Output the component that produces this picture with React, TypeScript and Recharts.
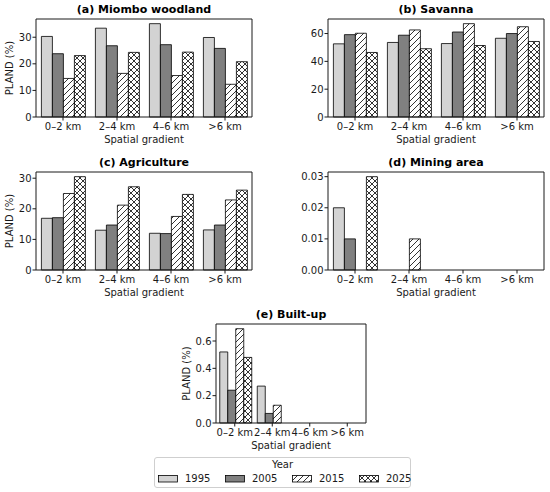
import React from 'react';
import { BarChart, Bar, XAxis, YAxis, Label, Legend, CartesianGrid } from 'recharts';

const categories = ['0–2 km', '2–4 km', '4–6 km', '>6 km'];
const years = ['1995', '2005', '2015', '2025'];

// (a) Miombo woodland
const miombo1995 = [30.3, 33.4, 35.1, 29.9];
const miombo2005 = [23.8, 26.8, 27.2, 25.8];
const miombo2015 = [14.5, 16.4, 15.6, 12.3];
const miombo2025 = [23.1, 24.3, 24.4, 20.8];
const miomboTicks = [0, 10, 20, 30];

// (b) Savanna
const savanna1995 = [52.6, 53.6, 52.8, 56.6];
const savanna2005 = [59.2, 58.8, 61.1, 60.0];
const savanna2015 = [60.2, 62.6, 67.1, 64.9];
const savanna2025 = [46.4, 49.1, 51.4, 54.3];
const savannaTicks = [0, 20, 40, 60];

// (c) Agriculture
const agri1995 = [16.9, 13.0, 12.0, 13.1];
const agri2005 = [17.1, 14.7, 11.9, 14.7];
const agri2015 = [25.0, 21.2, 17.5, 22.9];
const agri2025 = [30.5, 27.2, 24.7, 26.1];
const agriTicks = [0, 10, 20, 30];

// (d) Mining area
const mining1995 = [0.02, 0, 0, 0];
const mining2005 = [0.01, 0, 0, 0];
const mining2015 = [0, 0.01, 0, 0];
const mining2025 = [0.03, 0, 0, 0];
const miningTicks = [0, 0.01, 0.02, 0.03];

// (e) Built-up
const built1995 = [0.52, 0.27, 0, 0];
const built2005 = [0.24, 0.07, 0, 0];
const built2015 = [0.69, 0.13, 0, 0];
const built2025 = [0.48, 0, 0, 0];
const builtTicks = [0, 0.2, 0.4, 0.6];

const FONT = '"DejaVu Sans", sans-serif';
const INK = '#1a1a1a';
const FILLS = ['#d3d3d3', '#808080', 'url(#hatchDiag)', 'url(#hatchCross)'];

const ML = 40;
const MT = 24;
const MR = 6;
const XH = 34;

function buildRows(series: number[][]) {
  return categories.map((cat, i) => {
    const row: Record<string, any> = { cat };
    years.forEach((y, j) => {
      row['y' + y] = series[j][i];
    });
    return row;
  });
}

type PanelProps = {
  plotLeft: number;
  plotTop: number;
  plotW: number;
  plotH: number;
  series: number[][];
  ticks: number[];
  digits: number;
  title: string;
  yLabelDx?: number;
  legend?: { left: number; top: number };
};

function LegendBox(props: any) {
  const payload = props.payload || [];
  return (
    <div
      style={{
        width: 257,
        height: 31,
        boxSizing: 'border-box',
        border: '1px solid #cfcfcf',
        borderRadius: 3,
        background: '#fff',
        position: 'relative',
        fontFamily: FONT,
        fontSize: 10,
        color: INK,
      }}
    >
      <div style={{ position: 'absolute', left: 0, right: 0, top: 1, textAlign: 'center', lineHeight: '12px' }}>
        Year
      </div>
      {payload.map((p: any, i: number) => (
        <div key={i} style={{ position: 'absolute', left: 3 + i * 67, top: 15, height: 12, display: 'flex', alignItems: 'center' }}>
          <svg width={20} height={8} style={{ display: 'block' }}>
            <rect x={0.5} y={0.5} width={19} height={6.5} fill={p.payload?.fill || p.color} stroke="#000" strokeWidth={0.8} />
          </svg>
          <span style={{ marginLeft: 7, lineHeight: '12px' }}>{p.value}</span>
        </div>
      ))}
    </div>
  );
}

function Panel(p: PanelProps) {
  const rows = buildRows(p.series);
  const maxVal = Math.max(...p.series.flat());
  const domainMax = maxVal * 1.05;
  const width = ML + p.plotW + MR;
  const height = MT + p.plotH + XH;
  const tickStyle = { fontFamily: FONT, fontSize: 10, fill: INK };
  const axisLine = { stroke: INK, strokeWidth: 1 };
  return (
    <div style={{ position: 'absolute', left: p.plotLeft - ML, top: p.plotTop - MT }}>
      <BarChart
        width={width}
        height={height}
        data={rows}
        margin={{ top: MT, right: MR, bottom: 0, left: 0 }}
        barCategoryGap="10%"
        barGap={0}
      >
        <CartesianGrid
          horizontalPoints={[MT]}
          verticalPoints={[ML + p.plotW]}
          stroke={INK}
          strokeWidth={1}
          fill="none"
        />
        <XAxis
          dataKey="cat"
          interval={0}
          tick={tickStyle}
          tickSize={3.5}
          tickMargin={2.5}
          height={XH}
          axisLine={axisLine}
          tickLine={{ stroke: INK }}
        >
          <Label
            content={(lp: any) => {
              const vb = lp.viewBox || {};
              return (
                <g>
                  <text x={vb.x + vb.width / 2} y={vb.y + 26} textAnchor="middle" fontFamily={FONT} fontSize={10} fill={INK}>
                    Spatial gradient
                  </text>
                  <text
                    x={vb.x + vb.width / 2}
                    y={vb.y - p.plotH - 6}
                    textAnchor="middle"
                    fontFamily={FONT}
                    fontSize={11}
                    fontWeight="bold"
                    fill="#000"
                  >
                    {p.title}
                  </text>
                </g>
              );
            }}
          />
        </XAxis>
        <YAxis
          width={ML}
          domain={[0, domainMax]}
          ticks={p.ticks}
          interval={0}
          tickFormatter={(v: number) => v.toFixed(p.digits)}
          tick={tickStyle}
          tickSize={3.5}
          tickMargin={1}
          axisLine={axisLine}
          tickLine={{ stroke: INK }}
        >
          {p.yLabelDx !== undefined ? (
            <Label
              content={(lp: any) => {
                const vb = lp.viewBox || {};
                const cx = vb.x + vb.width + (p.yLabelDx as number);
                const cy = vb.y + vb.height / 2;
                return (
                  <text
                    x={cx}
                    y={cy}
                    textAnchor="middle"
                    dominantBaseline="central"
                    transform={`rotate(-90 ${cx} ${cy})`}
                    fontFamily={FONT}
                    fontSize={10}
                    fill={INK}
                  >
                    PLAND (%)
                  </text>
                );
              }}
            />
          ) : null}
        </YAxis>
        {years.map((y, j) => (
          <Bar
            key={y}
            dataKey={'y' + y}
            name={y}
            fill={FILLS[j]}
            stroke="#000"
            strokeWidth={0.8}
            isAnimationActive={false}
          />
        ))}
        {p.legend ? (
          <Legend
            layout="horizontal"
            verticalAlign="middle"
            align="center"
            content={<LegendBox />}
            wrapperStyle={{ left: p.legend.left, top: p.legend.top, width: 257, height: 31, bottom: 'auto', right: 'auto' }}
          />
        ) : null}
      </BarChart>
    </div>
  );
}

export default function App() {
  return (
    <div style={{ position: 'absolute', left: 0, top: 0, width: 550, height: 492, background: '#fff', overflow: 'hidden' }}>
      <svg width={0} height={0} style={{ position: 'absolute' }}>
        <defs>
          <pattern id="hatchDiag" patternUnits="userSpaceOnUse" width={6} height={6}>
            <rect width={6} height={6} fill="#fff" />
            <path d="M0,6 L6,0 M-1,1 L1,-1 M5,7 L7,5" stroke="#000" strokeWidth={0.8} />
          </pattern>
          <pattern id="hatchCross" patternUnits="userSpaceOnUse" width={6} height={6}>
            <rect width={6} height={6} fill="#fff" />
            <path d="M0,6 L6,0 M-1,1 L1,-1 M5,7 L7,5 M0,0 L6,6 M-1,5 L1,7 M5,-1 L7,1" stroke="#000" strokeWidth={0.8} />
          </pattern>
        </defs>
      </svg>
      <Panel plotLeft={36} plotTop={19} plotW={216} plotH={98} series={[miombo1995, miombo2005, miombo2015, miombo2025]} ticks={miomboTicks} digits={0} title="(a) Miombo woodland" yLabelDx={-26.5} />
      <Panel plotLeft={328} plotTop={19} plotW={216} plotH={98} series={[savanna1995, savanna2005, savanna2015, savanna2025]} ticks={savannaTicks} digits={0} title="(b) Savanna" />
      <Panel plotLeft={36} plotTop={172} plotW={216} plotH={98} series={[agri1995, agri2005, agri2015, agri2025]} ticks={agriTicks} digits={0} title="(c) Agriculture" yLabelDx={-26.5} />
      <Panel plotLeft={328} plotTop={172} plotW={216} plotH={98} series={[mining1995, mining2005, mining2015, mining2025]} ticks={miningTicks} digits={2} title="(d) Mining area" />
      <Panel plotLeft={216} plotTop={324} plotW={150} plotH={99} series={[built1995, built2005, built2015, built2025]} ticks={builtTicks} digits={1} title="(e) Built-up" yLabelDx={-30} legend={{ left: -22, top: 157 }} />
    </div>
  );
}
